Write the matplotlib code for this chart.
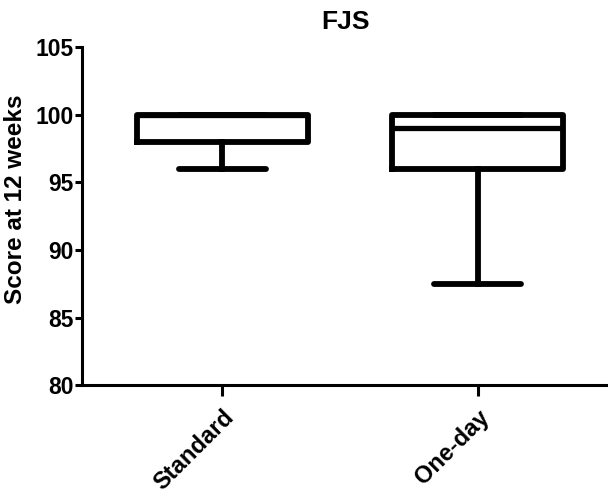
import matplotlib
matplotlib.use('Agg')
import matplotlib.pyplot as plt

# 数据
groups = ["Standard", "One-day"]
q1 = [98, 96]
median = [100, 99]
q3 = [100, 100]
whisker_low = [96, 87.5]
whisker_high = [100, 100]

plt.rcParams['font.family'] = ['Liberation Sans', 'DejaVu Sans']
plt.rcParams['font.weight'] = 'bold'

fig = plt.figure(figsize=(6.08, 4.97), dpi=100)
ax = fig.add_axes([0.135, 0.225, 0.865, 0.68])

stats = []
for i, name in enumerate(groups):
    stats.append({
        "label": name,
        "q1": q1[i], "med": median[i], "q3": q3[i],
        "whislo": whisker_low[i], "whishi": whisker_high[i],
        "fliers": [],
    })

lw = 4.2
ax.bxp(stats, positions=[1, 2], widths=0.67, showfliers=False,
       boxprops=dict(color='black', linewidth=lw, solid_joinstyle='round'),
       medianprops=dict(color='black', linewidth=3.8),
       whiskerprops=dict(color='black', linewidth=lw),
       capprops=dict(color='black', linewidth=lw, solid_capstyle='round'),
       capwidths=0.34)

ax.set_xlim(0.45, 2.51)
ax.set_ylim(80, 105)
ax.set_yticks([80, 85, 90, 95, 100, 105])

# 坐标轴样式
for side in ['top', 'right']:
    ax.spines[side].set_visible(False)
for side in ['left', 'bottom']:
    ax.spines[side].set_linewidth(2.2)

ax.tick_params(axis='y', width=2.2, length=5, labelsize=16.5, pad=1)
ax.tick_params(axis='x', width=2.2, length=8, labelsize=17, pad=7)
ax.set_xticks([1, 2])
ax.set_xticklabels(groups, rotation=45, ha='right', rotation_mode='anchor', fontweight='bold')
for lab in ax.get_yticklabels():
    lab.set_fontweight('bold')

ax.set_ylabel('Score at 12 weeks', fontsize=17.5, fontweight='bold')
ax.yaxis.set_label_coords(-0.105, 0.55)
ax.set_title('FJS', fontsize=19, fontweight='bold', pad=13)

plt.savefig('out.png', dpi=100)
plt.close(fig)
